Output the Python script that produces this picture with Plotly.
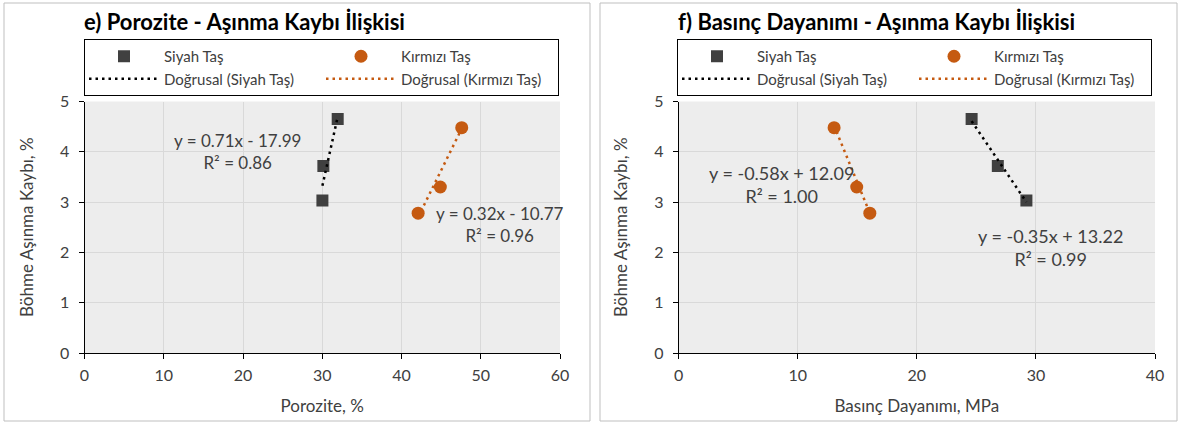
import plotly.graph_objects as go

W, H = 1182, 426

# ---- data ----
poro_siyah = [30.02, 30.14, 31.95]
poro_kirmizi = [42.1, 44.9, 47.6]
bd_siyah = [29.2, 26.8, 24.6]
bd_kirmizi = [16.05, 14.95, 13.05]
kayip_siyah = [3.03, 3.72, 4.65]
kayip_kirmizi = [2.78, 3.30, 4.48]

# trendline coefficients (slope, intercept) as shown in the chart
trend_e_siyah = (0.71, -17.99)
trend_e_kirmizi = (0.32, -10.77)
trend_f_siyah = (-0.35, 13.22)
trend_f_kirmizi = (-0.58, 12.09)

eq_e_siyah = "y = 0.71x - 17.99<br>R² = 0.86"
eq_e_kirmizi = "y = 0.32x - 10.77<br>R² = 0.96"
eq_f_siyah = "y = -0.35x + 13.22<br>R² = 0.99"
eq_f_kirmizi = "y = -0.58x + 12.09<br>R² = 1.00"

titles = ["e) Porozite - Aşınma Kaybı İlişkisi", "f) Basınç Dayanımı - Aşınma Kaybı İlişkisi"]
xtitles = ["Porozite, %", "Basınç Dayanımı, MPa"]
ytitle = "Böhme Aşınma Kaybı, %"

FONT = "Lato"
BLACK = "#404040"
RED = "#C55A11"
TXT = "#404040"

def px(x):
    return x / W

def py(y):
    return 1 - y / H

def trend(xs, coef):
    lo, hi = min(xs), max(xs)
    return [lo, hi], [coef[0] * lo + coef[1], coef[0] * hi + coef[1]]

fig = go.Figure()

panels = [
    dict(xa="x", ya="y", xs_s=poro_siyah, xs_k=poro_kirmizi, ts=trend_e_siyah, tk=trend_e_kirmizi,
         legend="legend"),
    dict(xa="x2", ya="y2", xs_s=bd_siyah, xs_k=bd_kirmizi, ts=trend_f_siyah, tk=trend_f_kirmizi,
         legend="legend2"),
]

for i, p in enumerate(panels):
    ga, gb = "s%d" % i, "k%d" % i
    fig.add_trace(go.Scatter(x=p["xs_s"], y=kayip_siyah, mode="markers", name="Siyah Taş",
                             marker=dict(symbol="square", size=12, color=BLACK),
                             legendgroup=ga, xaxis=p["xa"], yaxis=p["ya"], legend=p["legend"]))
    fig.add_trace(go.Scatter(x=p["xs_k"], y=kayip_kirmizi, mode="markers", name="Kırmızı Taş",
                             marker=dict(symbol="circle", size=13, color=RED),
                             legendgroup=gb, xaxis=p["xa"], yaxis=p["ya"], legend=p["legend"]))
    tx, ty = trend(p["xs_s"], p["ts"])
    fig.add_trace(go.Scatter(x=tx, y=ty, mode="lines", name="Doğrusal (Siyah Taş)",
                             line=dict(color="#000000", width=2.5, dash="2.5px,4px"),
                             legendgroup=ga, xaxis=p["xa"], yaxis=p["ya"], legend=p["legend"]))
    tx, ty = trend(p["xs_k"], p["tk"])
    fig.add_trace(go.Scatter(x=tx, y=ty, mode="lines", name="Doğrusal (Kırmızı Taş)",
                             line=dict(color=RED, width=2.5, dash="2.5px,4px"),
                             legendgroup=gb, xaxis=p["xa"], yaxis=p["ya"], legend=p["legend"]))

ydom = [py(353), py(101.5)]
axis_common = dict(showline=True, linecolor="#000000", linewidth=1, ticks="outside", ticklen=5,
                   tickcolor="#000000", gridcolor="#D9D9D9", gridwidth=1, zeroline=False,
                   automargin=False,
                   tickfont=dict(family=FONT, size=16, color=TXT))
title_font = dict(family=FONT, size=17, color=TXT)

legend_common = dict(orientation="h", traceorder="grouped", xanchor="left", yanchor="top",
                     xref="paper", yref="paper",
                     itemwidth=70, entrywidth=152, bordercolor="#000000", borderwidth=1,
                     bgcolor="white", font=dict(family=FONT, size=15, color=TXT),
                     tracegroupgap=0)

fig.update_layout(
    width=W, height=H, margin=dict(l=0, r=0, t=0, b=0), autosize=False,
    paper_bgcolor="white", plot_bgcolor="#EDEDED",
    font=dict(family=FONT, size=16, color=TXT),
    xaxis=dict(domain=[px(84.5), px(560)], range=[0, 60], dtick=10, anchor="y", ticklabelstandoff=3,
               title=dict(text=xtitles[0], standoff=16, font=title_font), **axis_common),
    yaxis=dict(domain=ydom, range=[0, 5], dtick=1, anchor="x", ticklabelstandoff=6,
               title=dict(text=ytitle, standoff=22, font=title_font), **axis_common),
    xaxis2=dict(domain=[px(678.7), px(1155)], range=[0, 40], dtick=10, anchor="y2", ticklabelstandoff=3,
                title=dict(text=xtitles[1], standoff=16, font=title_font), **axis_common),
    yaxis2=dict(domain=ydom, range=[0, 5], dtick=1, anchor="x2", ticklabelstandoff=6,
                title=dict(text=ytitle, standoff=22, font=title_font), **axis_common),
    legend=dict(x=px(84), y=py(39), **legend_common),
    legend2=dict(x=px(677), y=py(39), **legend_common),
    showlegend=True,
)

# panel borders
for x0, x1 in [(4, 590), (600, 1177)]:
    fig.add_shape(type="rect", xref="paper", yref="paper", x0=px(x0), x1=px(x1), y0=py(421), y1=py(3),
                  line=dict(color="#BFBFBF", width=1), fillcolor="rgba(0,0,0,0)", layer="below")

# titles
for t, x in zip(titles, [82, 676]):
    fig.add_annotation(text="<b>" + t + "</b>", xref="paper", yref="paper", x=px(x), y=py(22),
                       xanchor="left", yanchor="middle", showarrow=False,
                       font=dict(family=FONT, size=22, color="#000000"))

# equation labels
labels = [
    (237, 151, eq_e_siyah, 17),
    (500, 225, eq_e_kirmizi, 17),
    (782, 184, eq_f_kirmizi, 18),
    (1050, 248, eq_f_siyah, 18),
]
for cx, cy, txt, fs in labels:
    fig.add_annotation(text=txt, xref="paper", yref="paper", x=px(cx), y=py(cy),
                       xanchor="center", yanchor="middle", showarrow=False, align="center",
                       font=dict(family=FONT, size=fs, color=TXT))

fig.write_html("out.html", config={"displayModeBar": False},
               post_script="document.body.style.margin='0';document.body.style.overflow='hidden';")
